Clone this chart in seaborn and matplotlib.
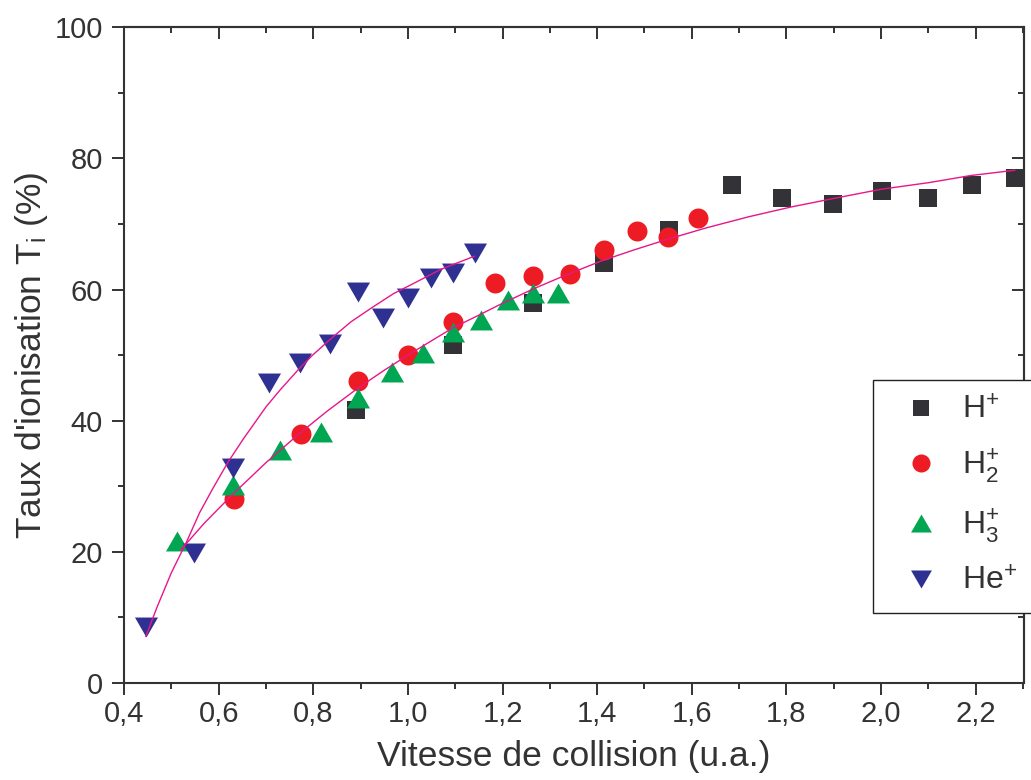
import numpy as np
import pandas as pd
import matplotlib
matplotlib.use("Agg")
import matplotlib.pyplot as plt
from matplotlib.lines import Line2D
from matplotlib.ticker import FixedLocator, MultipleLocator
import seaborn as sns

# ---------------- data ----------------
hp_x = [0.89, 1.095, 1.264, 1.414, 1.551, 1.686, 1.79, 1.898, 2.002, 2.099, 2.192, 2.283]
hp_y = [41.6, 51.5, 58.0, 64.1, 69.1, 75.9, 74.0, 73.1, 75.0, 74.0, 75.9, 77.0]

h2_x = [0.632, 0.774, 0.894, 1.0, 1.095, 1.184, 1.264, 1.342, 1.414, 1.484, 1.549, 1.613]
h2_y = [28.1, 38.0, 46.1, 50.0, 55.1, 61.0, 62.1, 62.4, 66.0, 68.9, 68.0, 70.9]

h3_x = [0.512, 0.63, 0.729, 0.816, 0.894, 0.966, 1.031, 1.095, 1.154, 1.211, 1.264, 1.317]
h3_y = [21.7, 30.2, 35.5, 38.3, 43.5, 47.4, 50.3, 53.5, 55.4, 58.4, 59.5, 59.5]

he_x = [0.446, 0.548, 0.630, 0.706, 0.772, 0.835, 0.894, 0.947, 1.0, 1.049, 1.095, 1.142]
he_y = [8.5, 19.8, 32.8, 45.8, 48.8, 51.7, 59.6, 55.7, 58.7, 61.8, 62.5, 65.6]

# fitted curves, sampled (estimated) along the drawn lines of the picture
fit_h_x = [0.52, 0.57, 0.63, 0.70, 0.77, 0.83, 0.895, 0.95, 1.0, 1.05, 1.096, 1.15,
           1.194, 1.265, 1.33, 1.41, 1.48, 1.55, 1.63, 1.72, 1.81, 1.90, 2.0, 2.10,
           2.19, 2.283]
fit_h_y = [20.3, 24.4, 28.8, 33.6, 38.0, 41.5, 45.0, 47.7, 50.0, 52.2, 54.2, 56.1,
           57.7, 60.1, 62.1, 64.4, 66.1, 67.7, 69.4, 71.1, 72.6, 73.9, 75.3, 76.3,
           77.4, 78.2]

fit_he_x = [0.446, 0.47, 0.50, 0.532, 0.56, 0.588, 0.62, 0.652, 0.70, 0.73, 0.771,
            0.80, 0.842, 0.88, 0.923, 0.97, 1.011, 1.07, 1.141]
fit_he_y = [7.1, 11.6, 16.8, 21.5, 26.0, 29.7, 33.7, 37.2, 42.1, 44.7, 48.0,
            50.1, 52.8, 55.1, 57.2, 59.4, 60.9, 63.1, 65.1]

labels = ["H$^{+}$", "H$_{2}^{+}$", "H$_{3}^{+}$", "He$^{+}$"]
colors = ["#333236", "#ED1C24", "#00A651", "#2E3192"]
fit_color = "#E8168B"

xticks = [0.4, 0.6, 0.8, 1.0, 1.2, 1.4, 1.6, 1.8, 2.0, 2.2]
xticklabels = ["0,4", "0,6", "0,8", "1,0", "1,2", "1,4", "1,6", "1,8", "2,0", "2,2"]
yticks = [0, 20, 40, 60, 80, 100]
yticklabels = ["0", "20", "40", "60", "80", "100"]

# ---------------- style ----------------
sns.set_theme(style="ticks")
plt.rcParams["font.family"] = ["Liberation Sans", "DejaVu Sans"]
plt.rcParams["mathtext.fontset"] = "custom"
plt.rcParams["mathtext.rm"] = "Liberation Sans"
plt.rcParams["mathtext.it"] = "Liberation Sans"
plt.rcParams["mathtext.bf"] = "Liberation Sans"
plt.rcParams["mathtext.default"] = "regular"

axis_color = "#333333"
text_color = "#333333"

fig = plt.figure(figsize=(10.31, 7.80), dpi=100)
ax = fig.add_axes([124 / 1031, 1 - 683 / 780, (1023.5 - 124) / 1031, (683 - 27.3) / 780])

up_tri = [(0, 0.866), (-1, -0.866), (1, -0.866)]
down_tri = [(0, -0.866), (-1, 0.866), (1, 0.866)]

df_hp = pd.DataFrame({"x": hp_x, "y": hp_y})
df_h2 = pd.DataFrame({"x": h2_x, "y": h2_y})
df_h3 = pd.DataFrame({"x": h3_x, "y": h3_y})
df_he = pd.DataFrame({"x": he_x, "y": he_y})

sns.scatterplot(data=df_hp, x="x", y="y", marker="s", s=162, color=colors[0],
                linewidth=0, ax=ax, zorder=3, legend=False)
sns.scatterplot(data=df_h2, x="x", y="y", marker="o", s=207, color=colors[1],
                linewidth=0, ax=ax, zorder=4, legend=False)
sns.scatterplot(data=df_h3, x="x", y="y", marker=up_tri, s=275, color=colors[2],
                linewidth=0, ax=ax, zorder=5, legend=False)
sns.scatterplot(data=df_he, x="x", y="y", marker=down_tri, s=275, color=colors[3],
                linewidth=0, ax=ax, zorder=6, legend=False)

df_fh = pd.DataFrame({"x": fit_h_x, "y": fit_h_y})
df_fhe = pd.DataFrame({"x": fit_he_x, "y": fit_he_y})
sns.lineplot(data=df_fh, x="x", y="y", sort=False, estimator=None, color=fit_color,
             lw=1.0, ax=ax, zorder=8)
sns.lineplot(data=df_fhe, x="x", y="y", sort=False, estimator=None, color=fit_color,
             lw=1.0, ax=ax, zorder=8)

ax.set_xlim(0.4, 2.301)
ax.set_ylim(0, 100)

ax.xaxis.set_major_locator(FixedLocator(xticks))
ax.set_xticklabels(xticklabels)
ax.xaxis.set_minor_locator(MultipleLocator(0.1))
ax.yaxis.set_major_locator(FixedLocator(yticks))
ax.set_yticklabels(yticklabels)
ax.yaxis.set_minor_locator(MultipleLocator(10))

for sp in ax.spines.values():
    sp.set_visible(True)
    sp.set_color(axis_color)
    sp.set_linewidth(1.5)

ax.tick_params(axis="both", which="major", length=8.6, width=1.4, color=axis_color,
               labelsize=21, labelcolor=text_color)
ax.tick_params(axis="both", which="minor", length=4.3, width=1.4, color=axis_color)
ax.tick_params(axis="x", which="both", direction="out", top=False, bottom=True, pad=3.5)
ax.tick_params(axis="y", which="both", direction="out", right=False, left=True, pad=6.5)

# inward ticks on top and right
secx = ax.secondary_xaxis("top")
secx.xaxis.set_major_locator(FixedLocator(xticks))
secx.xaxis.set_minor_locator(MultipleLocator(0.1))
secx.tick_params(axis="x", which="major", direction="in", length=8.6, width=1.4,
                 color=axis_color, labeltop=False)
secx.tick_params(axis="x", which="minor", direction="in", length=4.3, width=1.4,
                 color=axis_color)
secx.spines["top"].set_linewidth(1.5)
secx.spines["top"].set_color(axis_color)
secy = ax.secondary_yaxis("right")
secy.yaxis.set_major_locator(FixedLocator(yticks))
secy.yaxis.set_minor_locator(MultipleLocator(10))
secy.tick_params(axis="y", which="major", direction="in", length=8.6, width=1.4,
                 color=axis_color, labelright=False)
secy.tick_params(axis="y", which="minor", direction="in", length=4.3, width=1.4,
                 color=axis_color)
secy.spines["right"].set_linewidth(1.5)
secy.spines["right"].set_color(axis_color)

ax.set_xlabel("Vitesse de collision (u.a.)", fontsize=25.5, color=text_color, labelpad=9)
ax.set_ylabel("Taux d'ionisation T$_{i}$ (%)", fontsize=25.5, color=text_color, labelpad=3)

handles = [
    Line2D([], [], linestyle="none", marker="s", markersize=12, color=colors[0], markeredgewidth=0),
    Line2D([], [], linestyle="none", marker="o", markersize=13, color=colors[1], markeredgewidth=0),
    Line2D([], [], linestyle="none", marker=up_tri, markersize=15, color=colors[2], markeredgewidth=0),
    Line2D([], [], linestyle="none", marker=down_tri, markersize=15, color=colors[3], markeredgewidth=0),
]
leg = fig.legend(handles=handles, labels=labels, loc="upper left",
                 bbox_to_anchor=(873 / 1031, 1 - 380 / 780), fontsize=23,
                 frameon=True, fancybox=False, framealpha=1, edgecolor="#222222",
                 borderpad=0.5, handlelength=2.0, handletextpad=0.3, labelspacing=0.68,
                 borderaxespad=0)
leg.get_frame().set_linewidth(1.0)
leg.set_zorder(20)
for t in leg.get_texts():
    t.set_color(text_color)

fig.savefig("out.png", dpi=100)
